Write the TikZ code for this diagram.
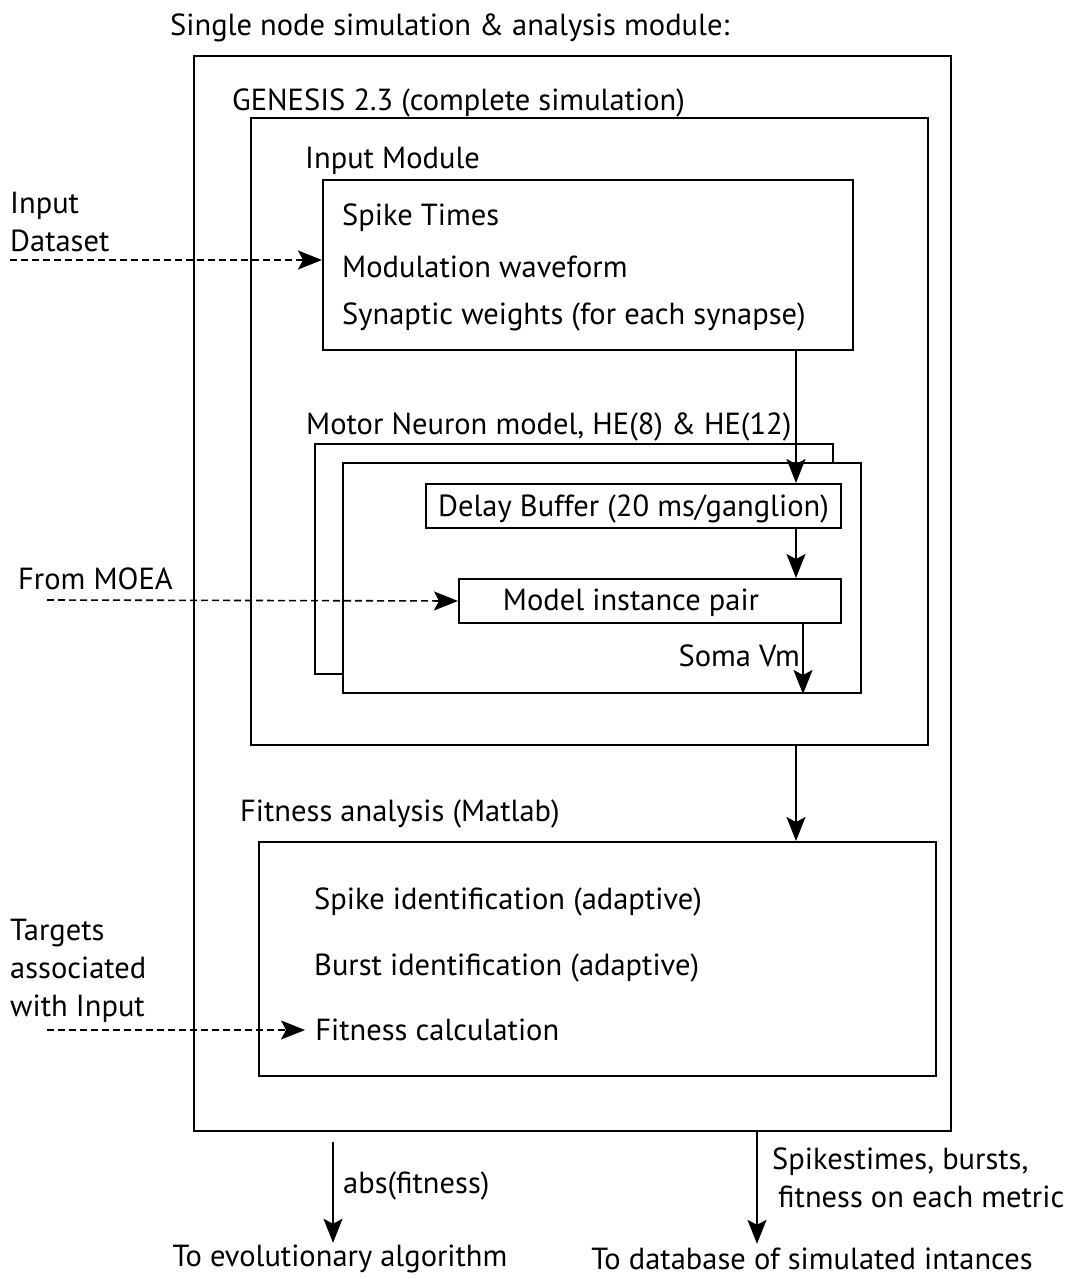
\documentclass[tikz,border=0pt]{standalone}
\usepackage{fontspec}
\setmainfont{PT Sans}
\usetikzlibrary{arrows.meta}

\tikzset{
  box/.style={draw, line width=2pt, fill=white, inner sep=0pt, anchor=north west},
  txt/.style={yshift=-3pt},
  lbl/.style={txt, anchor=west, inner sep=0pt},
  arr/.style={line width=2pt, -{Stealth[length=24pt, width=19pt, inset=5pt]}},
  dasharr/.style={line width=1.6pt, dash pattern=on 7pt off 4pt,
    -{Stealth[length=24pt, width=19pt, inset=5pt]}}
}

\begin{document}
\fontsize{30.5}{38}\selectfont
\begin{tikzpicture}[x=1pt, y=-1pt]
    \useasboundingbox (0,0) rectangle (1074,1279);

    % enclosing boxes
    \node[box, minimum width=757pt, minimum height=1075pt] (outer) at (193,55) {};
    \node[box, minimum width=677pt, minimum height=627pt] (genesis) at (250,117) {};
    \node[box, minimum width=530pt, minimum height=170pt] (inmod) at (322,179) {};
    \node[box, minimum width=518pt, minimum height=230pt] (motorback) at (314,443) {};
    \node[box, minimum width=518pt, minimum height=230pt] (motor) at (342,462) {};
    \node[box, minimum width=415pt, minimum height=44pt] (delay) at (425,483) {};
    \node[box, minimum width=382pt, minimum height=44pt] (model) at (458,578) {};
    \node[box, minimum width=677pt, minimum height=234pt] (fitness) at (258,841) {};

    % titles
    \node[lbl] (ttlnode) at (170,25) {Single node simulation \& analysis module:};
    \node[lbl] (ttlgen) at (232,100) {GENESIS 2.3 (complete simulation)};
    \node[lbl] (ttlin) at (305,158) {Input Module};
    \node[lbl] (ttlmotor) at (306,424) {Motor Neuron model, HE(8) \& HE(12)};
    \node[lbl] (ttlfit) at (240,811) {Fitness analysis (Matlab)};

    % box contents
    \node[lbl] (spk) at (342,215) {Spike Times};
    \node[lbl] (modw) at (342,264) {Modulation waveform};
    \node[lbl] (syn) at (342,314) {Synaptic weights (for each synapse)};
    \node[txt] (delaytxt) at (delay.center) {Delay Buffer (20 ms/ganglion)};
    \node[txt] (modeltxt) at (631,600) {Model instance pair};
    \node[txt, anchor=east, inner sep=0pt] (somavm) at (800,653) {Soma Vm};
    \node[lbl] (spkid) at (314,899) {Spike identification (adaptive)};
    \node[lbl] (burstid) at (314,965) {Burst identification (adaptive)};
    \node[anchor=west] (fitcalc) at (305,1030) {Fitness calculation};

    % side inputs
    \node[lbl, align=left] (dataset) at (10,219) {Input\\Dataset};
    \node[lbl] (moealbl) at (18,576) {From MOEA};
    \node[lbl, align=left] (targets) at (10,968) {Targets\\associated\\with Input};
    \coordinate (dsin) at (10,260);
    \coordinate (moein) at (47,600);
    \coordinate (tgin) at (47,1030);

    % outputs
    \node[txt, inner sep=0pt] (toea) at (340,1256) {To evolutionary algorithm};
    \node[txt, inner sep=0pt] (todb) at (812,1256) {To database of simulated intances};
    \node[lbl] (abslbl) at (343,1183) {abs(fitness)};
    \node[lbl, align=left] (dblbl) at (772,1175) {Spikestimes, bursts,\\\hspace*{6pt}fitness on each metric};

    % vertical arrow columns
    \coordinate (colA) at (796,0);
    \coordinate (colB) at (803,0);
    \coordinate (colC) at (333,0);
    \coordinate (colD) at (757,0);

    \draw[arr] (colA |- inmod.south) -- (colA |- delay.north);
    \draw[arr] (colA |- delay.south) -- (colA |- model.north);
    \draw[arr] (colB |- model.south) -- (colB |- motor.south);
    \draw[arr] (colA |- genesis.south) -- (colA |- fitness.north);
    \draw[arr] ([yshift=-10pt]colC |- outer.south) -- ([yshift=2pt]colC |- toea.north);
    \draw[arr] (colD |- outer.south) -- ([yshift=4pt]colD |- todb.north);

    \draw[dasharr] (dsin) -- (inmod.west |- dsin);
    \draw[dasharr] (moein) -- (model.west);
    \draw[dasharr] (tgin) -- (fitcalc.west);
\end{tikzpicture}
\end{document}
